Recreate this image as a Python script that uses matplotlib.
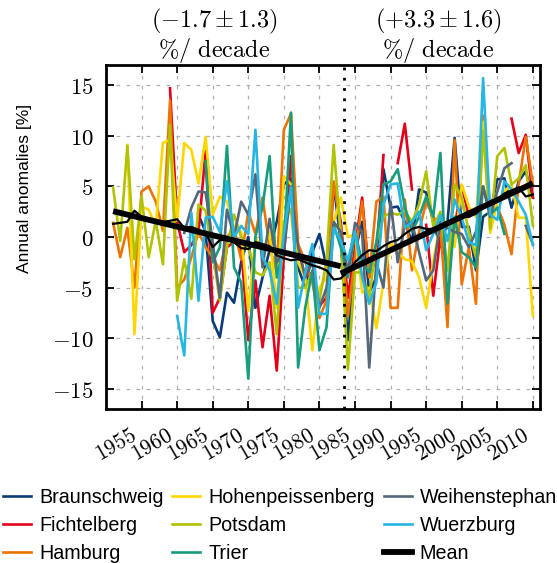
import numpy as np
import matplotlib
matplotlib.use('Agg')
import matplotlib.pyplot as plt
import matplotlib.transforms as mtransforms
from matplotlib.lines import Line2D

nan = np.nan
years = np.arange(1951, 2011)

braunschweig = [nan]*10 + [
    nan, nan, 2.2, 0.5, -8.3, -9.9, -5.5, -6.5, -2.5, 0.0,
    -7.0, -4.0, -1.3, 1.5, 5.2, 5.8, -3.0, -5.0, -1.5, 0.3,
    -3.0, 5.2, -0.5, -10.2, -1.5, 1.5, -5.5, -4.0, 6.7, 2.9,
    3.0, 1.5, -0.5, 4.7, 4.4, 1.5, -1.0, 1.5, 9.8, 1.0,
    1.0, -3.3, 2.0, 2.5, 5.7, 5.8, 2.9, 5.5, 6.5, 3.9]
fichtelberg = [nan]*8 + [14.7, 1.5,
    -1.5, -0.8, 0.5, 8.5, -7.5, -6.0, -1.0, -0.5, -1.0, -10.2,
    -4.3, -10.9, -5.8, -13.2, -2.0, 8.0, -1.0, -4.0, -3.5, -6.8,
    -6.0, 5.2, 1.5, -6.0, -1.0, 3.9, -4.0, -2.0, 8.1, nan,
    7.3, 11.2, 4.7, nan, 1.2, -5.8, 0.0, -3.0, 1.0, 5.1,
    2.0, nan, nan, nan, nan, nan, 11.7, 8.3, 10.1, 3.9]
hamburg = [
    1.4, -2.0, 0.9, -5.0, 4.5, 5.0, 3.5, 0.6, 13.5, -5.0,
    -4.2, -2.0, 0.5, -1.0, -2.0, -3.3, 0.0, 0.8, -2.2, 2.5,
    0.3, 3.9, -1.0, -3.5, 10.6, 12.2, -0.7, -2.4, -4.5, -8.0,
    -6.3, 5.5, 1.0, -7.8, -2.0, 3.5, -4.0, 3.5, 4.0, -7.0,
    -7.0, 3.7, -3.3, 0.5, 3.5, 2.0, 1.0, -8.9, 9.6, -4.7,
    -1.0, -6.6, 12.0, 2.5, 3.0, 1.2, -1.7, 5.2, 9.9, 5.2]
hohenpeissenberg = [
    nan, nan, 9.1, -9.6, 3.0, 2.7, 1.1, 9.3, 9.6, 1.6,
    9.3, 8.6, 5.3, 9.9, 2.2, 4.0, 3.5, 1.0, 0.5, -7.3,
    0.0, -1.5, 0.5, -7.0, 6.0, 5.2, -2.5, -4.0, -11.2, -5.0,
    -4.0, 1.5, 3.9, 0.0, 0.3, -5.5, -5.0, -9.0, -4.5, -0.5,
    -1.5, -2.2, -2.4, -4.0, -7.0, -2.4, 1.5, 1.5, -1.0, 5.2,
    3.0, 2.0, 11.4, 0.4, 3.5, 4.5, 5.2, 1.9, 1.9, -7.8]
potsdam = [
    4.9, -0.4, 9.0, -2.2, 4.0, -2.0, 1.6, -2.7, 11.1, -6.3,
    -2.2, -6.1, 3.2, 2.6, -1.5, -6.3, -1.0, 2.2, 0.0, -1.0,
    -3.5, -3.8, -2.5, -9.6, 1.5, 2.8, -5.0, -5.0, -3.5, -6.3,
    -2.3, 9.1, 0.0, -13.1, -3.5, -3.5, -6.0, -0.5, 2.0, 2.4,
    2.2, 2.6, 1.5, 3.2, 6.5, 1.0, 2.5, -3.3, 5.2, 3.9,
    0.5, -2.0, 10.5, 0.8, 8.0, 8.8, 5.2, 5.8, 7.1, 1.1]
trier = [nan]*10 + [
    nan, nan, nan, 7.5, -2.5, -1.0, 9.0, -3.0, -4.5, -14.0,
    0.0, 3.0, 8.0, -4.0, -1.0, 12.3, -12.9, -7.0, -3.3, -11.2,
    -8.9, 1.2, -1.0, -4.0, 0.5, -2.5, -3.5, -0.5, 5.2, 5.5,
    6.7, 3.0, 0.5, 2.0, 4.0, 2.0, 8.3, -6.6, 2.0, -1.5,
    -2.0, -3.0, 5.0, 2.2, 2.9, 0.3, nan, nan, nan, nan]
weihenstephan = [nan]*10 + [
    0.4, 2.9, 4.5, 4.4, -0.5, -6.0, 2.7, 0.0, 3.5, 2.2,
    6.2, -3.0, 1.8, -2.5, -1.5, 5.0, -1.0, -4.0, -2.5, -7.0,
    -5.0, 1.5, 0.5, -3.5, 1.4, 0.5, -12.9, -2.5, -5.0, 3.5,
    -2.5, 1.2, 1.5, -1.5, -4.3, -3.3, 1.5, 0.9, 0.5, 0.3,
    -1.0, 0.5, 5.0, 2.0, 4.5, 6.8, 7.3, nan, 1.1, -0.7]
wuerzburg = [nan]*9 + [-7.8,
    -11.7, 2.4, -6.3, 1.9, 2.0, 0.5, 5.5, 0.0, 1.1, 0.3,
    10.6, -2.0, -3.3, -6.6, 0.3, 4.9, -7.0, -3.5, -0.7, -7.6,
    -7.6, 0.9, -0.4, -2.3, 0.6, -4.0, -6.6, -4.5, 3.2, 5.2,
    5.3, 0.9, 1.5, 2.5, -1.3, 0.3, 2.2, -0.4, 3.7, 1.9,
    -0.5, -0.8, 15.7, 2.2, 1.7, 5.5, 4.7, 3.5, 2.2, -0.8]
mean = [
    1.3, 1.4, 1.5, 2.6, 2.0, 1.8, 1.6, 1.5, 1.6, 1.75,
    0.9, 1.0, 0.7, 0.4, -1.0, -0.3, -0.3, -0.5, -1.1, -1.2,
    -0.5, -0.7, -0.9, -1.8, -2.1, -2.3, -2.2, -2.5, -2.8, -3.0,
    -3.3, -4.2, -4.1, -3.4, -2.5, -1.8, -1.3, -1.4, -0.9, -0.5,
    -0.3, 0.3, 0.8, 1.0, 0.8, 0.8, 1.0, 1.2, 1.8, 2.0,
    2.0, 2.3, 3.0, 3.5, 3.7, 4.3, 4.6, 4.9, 4.0, 4.2]

stations = ['Braunschweig', 'Fichtelberg', 'Hamburg', 'Hohenpeissenberg',
            'Potsdam', 'Trier', 'Weihenstephan', 'Wuerzburg']
series = [braunschweig, fichtelberg, hamburg, hohenpeissenberg,
          potsdam, trier, weihenstephan, wuerzburg]
colors = ['#0a3a78', '#e2001a', '#ec7404', '#ffd700',
          '#b1c300', '#179c7d', '#55687a', '#27b6e2']

# trends (slope in %/decade, value at anchor year)
trend1_years = [1951, 1983]
trend1_slope = -1.7
trend1_err = 1.3
trend1_start = 2.55
trend2_years = [1983, 2010]
trend2_slope = 3.3
trend2_err = 1.6
trend2_end = 5.3
break_year = 1983.5

plt.rcParams['mathtext.fontset'] = 'cm'

fig = plt.figure(figsize=(5.57, 5.63), dpi=100)
ax = fig.add_axes([106/557, 1-409/563, 434/557, 344/563])

for name, vals, c in zip(stations, series, colors):
    ax.plot(years, np.array(vals, dtype=float), color=c, lw=1.9, label=name)
ax.plot(years, mean, color='black', lw=1.6)

t1x = np.array(trend1_years, dtype=float)
t1y = trend1_start + trend1_slope/10*(t1x - t1x[0])
t2x = np.array(trend2_years, dtype=float)
t2y = trend2_end + trend2_slope/10*(t2x - t2x[-1])
ax.plot(t1x, t1y, color='black', lw=4.2, solid_capstyle='butt')
ax.plot(t2x, t2y, color='black', lw=4.2, solid_capstyle='butt')
ax.axvline(break_year, color='black', lw=2.0, ls=(0, (1, 2.7)))

ax.set_xlim(1950, 2011)
ax.set_ylim(-17, 17)
xt = np.arange(1955, 2011, 5)
ax.set_xticks(xt)
ax.set_xticklabels([r'$%d$' % v for v in xt], rotation=30, ha='right',
                   fontsize=15.5)
yt = np.arange(-15, 16, 5)
ax.set_yticks(yt)
ax.set_yticklabels([r'$%d$' % v for v in yt], fontsize=16.5)
ax.tick_params(direction='in', top=True, right=True, length=6, width=1.3)
ax.tick_params(axis='y', pad=9)
ax.tick_params(axis='x', pad=12)
shift = mtransforms.ScaledTranslation(-1/100, 0, fig.dpi_scale_trans)
for lab in ax.get_xticklabels():
    lab.set_transform(lab.get_transform() + shift)
for s in ax.spines.values():
    s.set_linewidth(2.0)
ax.grid(True, color='#b0b0b0', ls=(0, (3, 5)), lw=0.9)
ax.set_axisbelow(True)

ax.set_ylabel('Annual anomalies [%]', family='Liberation Sans', fontsize=12.6)
ax.yaxis.set_label_coords(-0.171, 0.64)

trans = mtransforms.blended_transform_factory(ax.transData, ax.transAxes)
for xc, sl, er in [(1965.2, trend1_slope, trend1_err), (1996.7, trend2_slope, trend2_err)]:
    ax.text(xc, 1.126, r'$(%+.1f \pm %.1f)$' % (sl, er), transform=trans,
            ha='center', va='center', fontsize=17.5)
    ax.text(xc, 1.043, r'$\%/\ \mathrm{decade}$', transform=trans,
            ha='center', va='center', fontsize=17.5)

handles, labels = ax.get_legend_handles_labels()
handles.append(Line2D([], [], color='black', lw=4.2))
labels.append('Mean')
leg = fig.legend(handles, labels, ncol=3, loc='upper left',
                 bbox_to_anchor=(3/557, 1-488/563), frameon=False,
                 borderpad=0, borderaxespad=0, handlelength=1.42,
                 handletextpad=0.4, columnspacing=0.45, labelspacing=0.46,
                 prop={'family': 'Liberation Sans', 'size': 14.2})

fig.savefig('out.png', dpi=100)
